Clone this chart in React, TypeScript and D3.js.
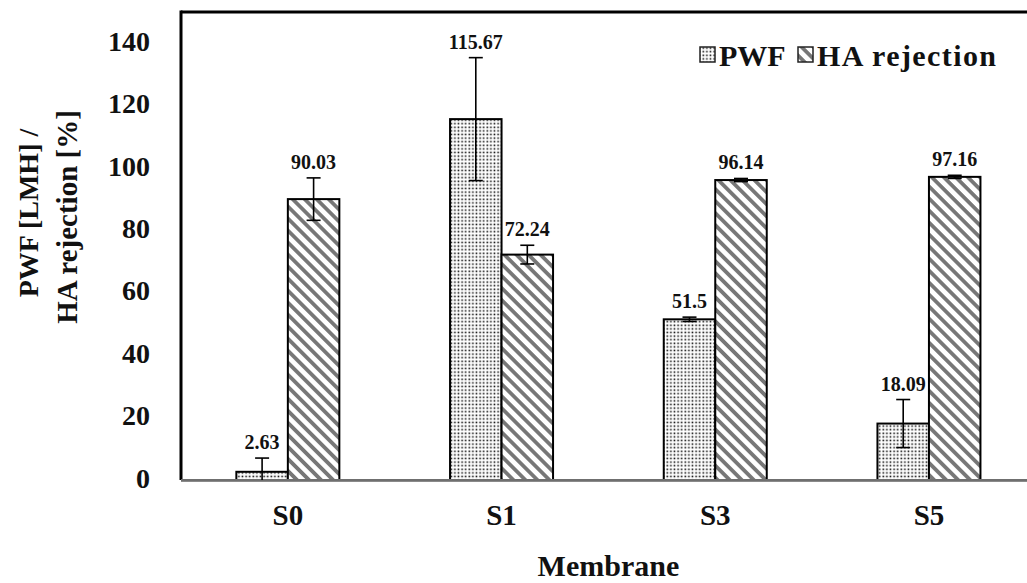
import * as d3 from 'd3'

// membrane samples
const MEMBRANES = ['S0', 'S1', 'S3', 'S5']
const SERIES = ['PWF', 'HA rejection']

// PWF [LMH]
const PWF = [2.63, 115.67, 51.5, 18.09]
const PWF_ERR = [4.4, 19.7, 0.7, 7.7]
// HA rejection [%]
const HA = [90.03, 72.24, 96.14, 97.16]
const HA_ERR = [6.8, 3.0, 0.5, 0.5]

const Y_TICKS = [0, 20, 40, 60, 80, 100, 120, 140]

const W = 1027
const H = 583
const LEFT = 181
const BAND = 213.7
const TOP = 12
const BOTTOM = 480
const BAR_W = 51.5

const FONT = '"Liberation Serif", "Times New Roman", serif'

const x = d3.scaleBand<string>().domain(MEMBRANES).range([LEFT, LEFT + BAND * MEMBRANES.length])
const xs = d3.scaleBand<string>().domain(SERIES).range([-BAR_W, BAR_W])
const y = d3.scaleLinear().domain([0, 150]).range([BOTTOM, TOP])

const fmt = (v: number) => String(v)

export default function App() {
  const groups = [
    { key: 'PWF', vals: PWF, errs: PWF_ERR, fill: 'url(#dots)' },
    { key: 'HA rejection', vals: HA, errs: HA_ERR, fill: 'url(#stripes)' },
  ]

  return (
    <svg width={W} height={H} style={{ position: 'absolute', left: 0, top: 0, background: '#fff' }}>
      <defs>
        <pattern id="dots" width={3.6} height={3.6} patternUnits="userSpaceOnUse">
          <rect width={3.6} height={3.6} fill="#fff" />
          <rect x={0.5} y={0.5} width={1.6} height={1.6} fill="#111" />
        </pattern>
        <pattern id="stripes" width={8.5} height={8.5} patternUnits="userSpaceOnUse" patternTransform="rotate(45)">
          <rect width={8.5} height={8.5} fill="#fff" />
          <rect x={0} y={0} width={8.5} height={3.8} fill="#777" />
        </pattern>
      </defs>

      {/* frame: top + left */}
      <line x1={LEFT} x2={W} y1={TOP} y2={TOP} stroke="#000" strokeWidth={3} />
      <line x1={LEFT} x2={LEFT} y1={TOP - 1.5} y2={BOTTOM} stroke="#000" strokeWidth={3} />

      {/* y ticks */}
      {Y_TICKS.map((t) => (
        <text key={t} x={150} y={y(t) - 2} textAnchor="end" dominantBaseline="central"
          fontFamily={FONT} fontWeight="bold" fontSize={28} fill="#111">{t}</text>
      ))}

      {/* bars */}
      {groups.map((g) =>
        MEMBRANES.map((m, i) => {
          const bx = (x(m) as number) + x.bandwidth() / 2 + (xs(g.key) as number)
          return (
            <rect key={g.key + m} x={bx} y={y(g.vals[i])} width={xs.bandwidth()}
              height={BOTTOM - y(g.vals[i])} fill={g.fill} stroke="#000" strokeWidth={2} />
          )
        })
      )}

      {/* x axis */}
      <line x1={LEFT} x2={W} y1={BOTTOM + 0.5} y2={BOTTOM + 0.5} stroke="#8a8a8a" strokeWidth={3} />
      <line x1={LEFT} x2={W} y1={BOTTOM} y2={BOTTOM} stroke="#555" strokeWidth={1} />

      {/* error bars + labels */}
      {groups.map((g) =>
        MEMBRANES.map((m, i) => {
          const cx = (x(m) as number) + x.bandwidth() / 2 + (xs(g.key) as number) + xs.bandwidth() / 2
          const hi = y(g.vals[i] + g.errs[i])
          const lo = y(Math.max(0, g.vals[i] - g.errs[i]))
          return (
            <g key={'e' + g.key + m}>
              <line x1={cx} x2={cx} y1={hi} y2={lo} stroke="#000" strokeWidth={1.6} />
              <line x1={cx - 7} x2={cx + 7} y1={hi} y2={hi} stroke="#000" strokeWidth={1.6} />
              {g.vals[i] - g.errs[i] > 0 && (
                <line x1={cx - 7} x2={cx + 7} y1={lo} y2={lo} stroke="#000" strokeWidth={1.6} />
              )}
              <text x={cx} y={hi - 16} textAnchor="middle" dominantBaseline="central"
                fontFamily={FONT} fontWeight="bold" fontSize={20} fill="#111">{fmt(g.vals[i])}</text>
            </g>
          )
        })
      )}

      {/* x labels */}
      {MEMBRANES.map((m) => (
        <text key={m} x={(x(m) as number) + x.bandwidth() / 2} y={515} textAnchor="middle"
          dominantBaseline="central" fontFamily={FONT} fontWeight="bold" fontSize={29} fill="#111">{m}</text>
      ))}
      <text x={LEFT + (BAND * MEMBRANES.length) / 2} y={565} textAnchor="middle" dominantBaseline="central"
        fontFamily={FONT} fontWeight="bold" fontSize={30} fill="#111">Membrane</text>

      {/* y title */}
      <g transform="translate(28, 213) rotate(-90)">
        <text x={0} y={0} textAnchor="middle" dominantBaseline="central"
          fontFamily={FONT} fontWeight="bold" fontSize={28} fill="#111">PWF [LMH] /</text>
      </g>
      <g transform="translate(67, 217) rotate(-90)">
        <text x={0} y={0} textAnchor="middle" dominantBaseline="central"
          fontFamily={FONT} fontWeight="bold" fontSize={29} fill="#111">HA rejection [%]</text>
      </g>

      {/* legend */}
      {groups.map((g, i) => {
        const lx = [700, 798][i]
        return (
          <g key={'l' + g.key}>
            <rect x={lx} y={47} width={15} height={15} fill={g.fill} stroke="#222" strokeWidth={1.5} />
            <text x={lx + 19} y={55} dominantBaseline="central" fontFamily={FONT} fontWeight="bold"
              fontSize={30} letterSpacing={i === 1 ? 1.4 : 0} fill="#111">{g.key}</text>
          </g>
        )
      })}
    </svg>
  )
}
